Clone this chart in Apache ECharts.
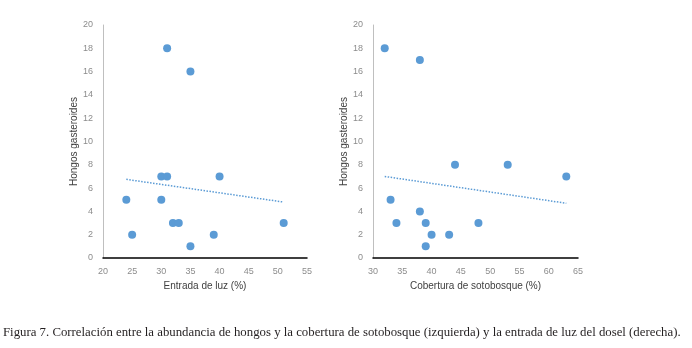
<!DOCTYPE html>
<html>
<head>
<meta charset="utf-8">
<script src="https://cdn.jsdelivr.net/npm/echarts@6/dist/echarts.min.js"></script>
<style>
  html, body { margin: 0; padding: 0; background: #fff; }
  #chart { width: 692px; height: 348px; }
</style>
</head>
<body>
<div id="chart"></div>
<script>
// left panel: light entry vs fungi
const luzPoints = [
  [24, 5], [25, 2], [30, 7], [31, 7], [30, 5], [31, 18], [35, 16],
  [32, 3], [33, 3], [35, 1], [39, 2], [40, 7], [51, 3]
];
const luzTrend = [[24, 6.75], [51, 4.8]];

// right panel: understory cover vs fungi
const cobPoints = [
  [32, 18], [38, 17], [33, 5], [34, 3], [38, 4], [39, 3], [39, 1],
  [40, 2], [43, 2], [44, 8], [48, 3], [53, 8], [63, 7]
];
const cobTrend = [[32, 7.0], [63, 4.7]];

const yTitle = "Hongos gasteroides";
const xTitles = ["Entrada de luz (%)", "Cobertura de sotobosque (%)"];
const caption = "Figura 7. Correlación entre la abundancia de hongos y la cobertura de sotobosque (izquierda) y la entrada de luz del dosel (derecha).";

const blue = "#5b9bd5";
const labelStyle = { color: "#8c8c8c", fontSize: 9, fontFamily: "Liberation Sans" };
const titleStyle = { color: "#404040", fontSize: 10, fontFamily: "Liberation Sans" };

function xAxis(idx, min, max, name) {
  return {
    type: "value", gridIndex: idx, min: min, max: max, interval: 5,
    name: name, nameLocation: "middle", nameGap: 21, nameTextStyle: titleStyle,
    axisLine: { onZero: false, lineStyle: { color: "#000", width: 1.5 } },
    axisTick: { show: false },
    axisLabel: Object.assign({ margin: 9 }, labelStyle),
    splitLine: { show: false }
  };
}
function yAxis(idx) {
  return {
    type: "value", gridIndex: idx, min: 0, max: 20, interval: 2,
    name: yTitle, nameLocation: "middle", nameGap: 24, nameTextStyle: titleStyle,
    axisLine: { show: true, lineStyle: { color: "#bfbfbf", width: 1 } },
    axisTick: { show: false },
    axisLabel: Object.assign({ margin: 10 }, labelStyle),
    splitLine: { show: false }
  };
}

const myChart = echarts.init(document.getElementById("chart"));
const option = {
  animation: false,
  grid: [
    { left: 103, right: 385, top: 25, bottom: 90 },
    { left: 373, right: 114, top: 25, bottom: 90 }
  ],
  xAxis: [xAxis(0, 20, 55, xTitles[0]), xAxis(1, 30, 65, xTitles[1])],
  yAxis: [yAxis(0), yAxis(1)],
  series: [
    { type: "scatter", xAxisIndex: 0, yAxisIndex: 0, data: luzPoints, symbolSize: 8, itemStyle: { color: blue, opacity: 1 } },
    { type: "line", xAxisIndex: 0, yAxisIndex: 0, data: luzTrend, symbol: "none",
      lineStyle: { color: blue, width: 1.5, type: [1.5, 1.5] } },
    { type: "scatter", xAxisIndex: 1, yAxisIndex: 1, data: cobPoints, symbolSize: 8, itemStyle: { color: blue, opacity: 1 } },
    { type: "line", xAxisIndex: 1, yAxisIndex: 1, data: cobTrend, symbol: "none",
      lineStyle: { color: blue, width: 1.5, type: [1.5, 1.5] } }
  ],
  graphic: [
    {
      type: "text", left: 3, top: 326,
      style: { text: caption, fill: "#231f20", font: "12.8px 'Liberation Serif'" }
    }
  ]
};
myChart.setOption(option);
</script>
</body>
</html>
